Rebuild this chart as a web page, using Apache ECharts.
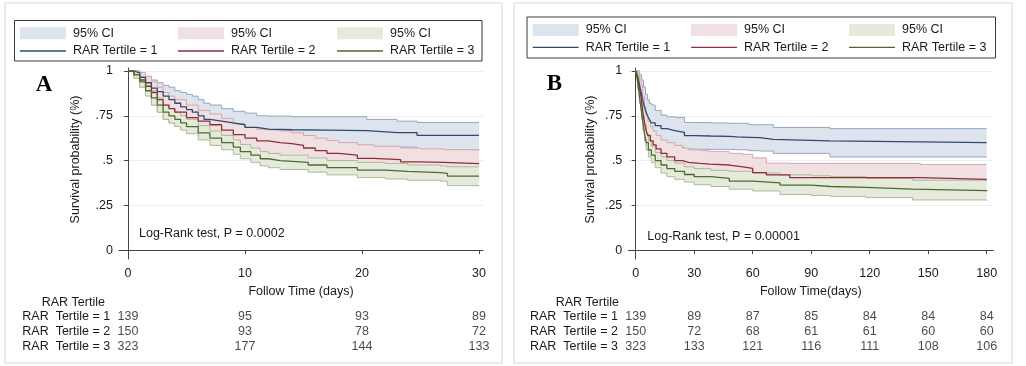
<!DOCTYPE html>
<html>
<head>
<meta charset="utf-8">
<script src="https://cdn.jsdelivr.net/npm/echarts@6.0.0/dist/echarts.min.js"></script>
<style>
  html, body { margin: 0; padding: 0; background: #fff; }
  #chart { width: 1026px; height: 366px; }
</style>
</head>
<body>
<div id="chart"></div>
<script>
// tick labels
const xTicksA = [0, 10, 20, 30];
const xTicksB = [0, 30, 60, 90, 120, 150, 180];
const yTicks = [0, 0.25, 0.5, 0.75, 1];
const ciLabel = "95% CI";
const lineLabels = ["RAR Tertile = 1", "RAR Tertile = 2", "RAR Tertile = 3"];
const rowLabels = ["RAR  Tertile = 1", "RAR  Tertile = 2", "RAR  Tertile = 3"];

// panel A, 30 days: time, survival, lower / upper 95% CI
const tA1 = [0, 0.5, 1, 1.5, 2, 2.5, 3, 3.5, 4, 4.5, 5, 5.5, 6, 6.5, 7, 8, 9, 10, 11, 12, 14, 17, 20.4, 23, 24.7, 30];
const sA1 = [1, 0.99, 0.965, 0.935, 0.905, 0.885, 0.86, 0.84, 0.82, 0.80, 0.785, 0.77, 0.75, 0.73, 0.72, 0.71, 0.70, 0.685, 0.675, 0.672, 0.67, 0.667, 0.656, 0.656, 0.641, 0.641];
const loA1 = [1, 0.97, 0.93, 0.89, 0.85, 0.82, 0.79, 0.77, 0.75, 0.72, 0.70, 0.68, 0.66, 0.64, 0.63, 0.62, 0.61, 0.60, 0.595, 0.59, 0.59, 0.585, 0.575, 0.575, 0.56, 0.555];
const hiA1 = [1, 1, 0.99, 0.97, 0.95, 0.935, 0.92, 0.91, 0.89, 0.88, 0.87, 0.86, 0.84, 0.82, 0.81, 0.79, 0.775, 0.765, 0.75, 0.748, 0.745, 0.745, 0.73, 0.72, 0.713, 0.713];

const tA2 = [0, 0.5, 1, 1.5, 2, 2.5, 3, 3.5, 4, 5, 6, 7, 8, 9, 10, 11, 12, 13, 14, 15, 16, 17, 18, 19.6, 21, 23.3, 25, 27, 30];
const sA2 = [1, 0.98, 0.95, 0.915, 0.88, 0.84, 0.81, 0.79, 0.77, 0.74, 0.72, 0.70, 0.67, 0.645, 0.625, 0.61, 0.60, 0.595, 0.585, 0.57, 0.555, 0.54, 0.53, 0.512, 0.505, 0.493, 0.49, 0.483, 0.48];
const loA2 = [1, 0.96, 0.91, 0.87, 0.81, 0.77, 0.73, 0.71, 0.69, 0.66, 0.64, 0.62, 0.59, 0.565, 0.545, 0.53, 0.52, 0.515, 0.505, 0.49, 0.475, 0.46, 0.45, 0.435, 0.43, 0.415, 0.41, 0.405, 0.40];
const hiA2 = [1, 1, 0.99, 0.97, 0.94, 0.91, 0.88, 0.86, 0.84, 0.81, 0.78, 0.76, 0.735, 0.705, 0.685, 0.675, 0.67, 0.665, 0.655, 0.64, 0.625, 0.612, 0.60, 0.588, 0.58, 0.57, 0.565, 0.56, 0.555];

const tA3 = [0, 0.5, 1, 1.5, 2, 2.5, 3, 3.5, 4, 4.5, 5, 6, 7, 8, 9, 9.6, 10.5, 11.3, 12, 13, 15.4, 17, 19.6, 22, 23.9, 26.7, 27.3, 30];
const sA3 = [1, 0.98, 0.94, 0.89, 0.85, 0.81, 0.77, 0.75, 0.73, 0.71, 0.69, 0.655, 0.625, 0.60, 0.575, 0.55, 0.53, 0.51, 0.50, 0.49, 0.475, 0.46, 0.447, 0.44, 0.432, 0.428, 0.413, 0.413];
const loA3 = [1, 0.96, 0.91, 0.86, 0.81, 0.77, 0.73, 0.71, 0.69, 0.67, 0.65, 0.615, 0.585, 0.56, 0.535, 0.51, 0.49, 0.47, 0.46, 0.45, 0.435, 0.42, 0.405, 0.397, 0.39, 0.385, 0.36, 0.357];
const hiA3 = [1, 1, 0.97, 0.93, 0.89, 0.85, 0.81, 0.79, 0.77, 0.75, 0.73, 0.695, 0.665, 0.64, 0.615, 0.59, 0.57, 0.55, 0.54, 0.53, 0.515, 0.50, 0.49, 0.483, 0.475, 0.47, 0.465, 0.465];

// panel B, 180 days
const tB1 = [0, 1, 2, 3, 4, 5, 6, 7, 8, 10, 13, 16, 20, 25, 30, 38.6, 48, 52, 58, 63.7, 70.6, 99.6, 180];
const sB1 = [1, 0.97, 0.92, 0.87, 0.82, 0.78, 0.75, 0.73, 0.71, 0.695, 0.678, 0.667, 0.657, 0.639, 0.637, 0.635, 0.632, 0.63, 0.628, 0.618, 0.61, 0.60, 0.60];
const loB1 = [1, 0.93, 0.86, 0.79, 0.73, 0.69, 0.66, 0.64, 0.62, 0.605, 0.59, 0.58, 0.572, 0.565, 0.563, 0.562, 0.562, 0.56, 0.555, 0.553, 0.54, 0.52, 0.52];
const hiB1 = [1, 1, 0.98, 0.95, 0.91, 0.87, 0.84, 0.82, 0.81, 0.78, 0.754, 0.745, 0.741, 0.713, 0.712, 0.71, 0.708, 0.708, 0.70, 0.70, 0.685, 0.678, 0.678];

const tB2 = [0, 1, 2, 2.8, 3.5, 4.5, 5.3, 6.2, 7.5, 8.9, 10.5, 13, 16, 20, 24, 27, 33, 38, 48, 55, 60, 67, 79, 146, 180];
const sB2 = [1, 0.96, 0.90, 0.85, 0.78, 0.713, 0.67, 0.64, 0.61, 0.587, 0.565, 0.54, 0.52, 0.50, 0.49, 0.484, 0.48, 0.475, 0.465, 0.456, 0.432, 0.42, 0.405, 0.395, 0.395];
const loB2 = [1, 0.92, 0.84, 0.78, 0.70, 0.63, 0.58, 0.555, 0.53, 0.51, 0.49, 0.465, 0.445, 0.43, 0.42, 0.415, 0.41, 0.405, 0.395, 0.385, 0.36, 0.35, 0.335, 0.325, 0.325];
const hiB2 = [1, 1, 0.96, 0.92, 0.86, 0.80, 0.76, 0.72, 0.69, 0.665, 0.64, 0.615, 0.60, 0.585, 0.57, 0.56, 0.555, 0.55, 0.54, 0.535, 0.515, 0.486, 0.484, 0.478, 0.478];

const tB3 = [0, 1, 2, 3, 3.7, 4.5, 5.4, 6.5, 8, 10, 13, 16, 20, 25, 30, 38.6, 48, 60, 74, 90, 100, 118, 142, 180];
const sB3 = [1, 0.94, 0.85, 0.77, 0.713, 0.65, 0.60, 0.56, 0.53, 0.50, 0.475, 0.455, 0.44, 0.422, 0.41, 0.40, 0.385, 0.375, 0.363, 0.355, 0.35, 0.34, 0.332, 0.328];
const loB3 = [1, 0.90, 0.82, 0.73, 0.67, 0.61, 0.56, 0.52, 0.49, 0.46, 0.43, 0.41, 0.395, 0.38, 0.365, 0.355, 0.34, 0.33, 0.31, 0.305, 0.30, 0.293, 0.28, 0.275];
const hiB3 = [1, 0.97, 0.88, 0.81, 0.75, 0.70, 0.65, 0.61, 0.58, 0.545, 0.52, 0.50, 0.485, 0.465, 0.455, 0.445, 0.44, 0.43, 0.42, 0.415, 0.41, 0.40, 0.39, 0.383];

// numbers at risk
const riskTimesA = [0, 10, 20, 30];
const riskA1 = [139, 95, 93, 89];
const riskA2 = [150, 93, 78, 72];
const riskA3 = [323, 177, 144, 133];
const riskTimesB = [0, 30, 60, 90, 120, 150, 180];
const riskB1 = [139, 89, 87, 85, 84, 84, 84];
const riskB2 = [150, 72, 68, 61, 61, 60, 60];
const riskB3 = [323, 133, 121, 116, 111, 108, 106];

const font = "'Liberation Sans', Arial, sans-serif";
const ink = "#1a1a1a";
const styles = [
  { line: "#2d4b70", fill: "#dee4ed", edge: "#93a6bf" },
  { line: "#8c2f3b", fill: "#f1e0e2", edge: "#d9a6ac" },
  { line: "#4d6c2c", fill: "#e5eadd", edge: "#adbb97" }
];

// step outline (KM style: hold value until next time)
function stepPts(api, t, v) {
  const pts = [];
  for (let j = 0; j < t.length; j++) {
    pts.push(api.coord([t[j], v[j]]));
    if (j + 1 < t.length) pts.push(api.coord([t[j + 1], v[j]]));
  }
  return pts;
}

function curveSeries(p, k, curves) {
  const bands = [], lines = [];
  curves.forEach((c, i) => {
    const st = styles[i];
    bands.push({
      type: "custom", name: p + "-ci-" + (i + 1), xAxisIndex: k, yAxisIndex: k,
      silent: true, animation: false, itemStyle: { color: st.fill },
      data: c.t.map((x, j) => [x, c.lo[j], c.hi[j]]),
      encode: { x: 0, y: [1, 2] },
      renderItem: (params, api) => {
        if (params.dataIndex !== 0) return;
        const up = stepPts(api, c.t, c.hi);
        const dn = stepPts(api, c.t, c.lo);
        return {
          type: "group",
          children: [
            { type: "polygon", shape: { points: up.concat(dn.slice().reverse()) }, style: { fill: st.fill, stroke: "none" } },
            { type: "polyline", shape: { points: up }, style: { fill: "none", stroke: st.edge, lineWidth: 1 } },
            { type: "polyline", shape: { points: dn }, style: { fill: "none", stroke: st.edge, lineWidth: 1 } }
          ]
        };
      }
    });
    lines.push({
      type: "line", name: p + "-km-" + (i + 1), xAxisIndex: k, yAxisIndex: k,
      step: "end", symbol: "none", silent: true, animation: false, z: 3,
      emphasis: { disabled: true },
      lineStyle: { color: st.line, width: 1.3 },
      itemStyle: { color: st.line },
      data: c.t.map((x, j) => [x, c.s[j]])
    });
  });
  return bands.concat(lines);
}

function riskSeries(k, times, rows) {
  return rows.map((n, r) => ({
    type: "scatter", xAxisIndex: k, yAxisIndex: k, symbolSize: 0, silent: true, animation: false,
    data: times.map((t, j) => [t, r, n[j]]),
    label: { show: true, position: "inside", formatter: (q) => String(q.value[2]), fontSize: 12.5, color: ink, fontFamily: font }
  }));
}

function plotX(grid, min, max, ticks, title) {
  return {
    type: "value", gridIndex: grid, min: min, max: max,
    name: title, nameLocation: "middle", nameGap: 22,
    nameTextStyle: { fontSize: 12.5, color: ink, fontFamily: font },
    axisLine: { show: true, lineStyle: { color: "#444", width: 1 } },
    axisTick: { show: true, length: 4, customValues: ticks, lineStyle: { color: "#444" } },
    axisLabel: { customValues: ticks, margin: 8, fontSize: 12.5, color: ink, fontFamily: font },
    splitLine: { show: false }
  };
}

function plotY(grid, gap) {
  return {
    type: "value", gridIndex: grid, min: -0.05, max: 1.017,
    name: "Survival probability (%)", nameLocation: "middle", nameGap: gap,
    nameTextStyle: { fontSize: 12.5, color: ink, fontFamily: font, padding: [0, 0, 0, 8] },
    axisLine: { show: true, lineStyle: { color: "#444", width: 1 } },
    axisTick: { show: true, length: 4, customValues: yTicks, lineStyle: { color: "#444" } },
    axisLabel: {
      customValues: yTicks, margin: 6, fontSize: 12.5, color: ink, fontFamily: font,
      formatter: (v) => (v === 0 ? "0" : v === 1 ? "1" : String(v).replace(/^0/, ""))
    },
    splitLine: { show: true, lineStyle: { color: "#e9eff2", width: 1 } }
  };
}

function riskX(grid, min, max) {
  return { type: "value", gridIndex: grid, min: min, max: max, show: false };
}
function riskY(grid, margin) {
  return {
    type: "category", gridIndex: grid, data: rowLabels, inverse: true,
    axisLine: { show: false }, axisTick: { show: false }, splitLine: { show: false },
    axisLabel: { interval: 0, align: "left", margin: margin, fontSize: 12.5, color: ink, fontFamily: font }
  };
}

function legendCol(p, i, left, top, gap) {
  return {
    left: left, top: top, orient: "vertical", padding: 0, itemGap: gap,
    itemWidth: 46, itemHeight: 12, selectedMode: false, symbolKeepAspect: true,
    textStyle: { fontSize: 12.5, color: ink, fontFamily: font, lineHeight: 14, padding: [0, 0, 0, 2] },
    formatter: (n) => (n.indexOf("-ci-") > 0 ? ciLabel : lineLabels[i]),
    data: [
      { name: p + "-ci-" + (i + 1), icon: "rect", itemStyle: { color: styles[i].fill, borderWidth: 0 } },
      { name: p + "-km-" + (i + 1), icon: "path://M0,0H46V1.3H0Z", itemStyle: { color: styles[i].line, borderWidth: 0 } }
    ]
  };
}

const curvesA = [
  { t: tA1, s: sA1, lo: loA1, hi: hiA1 },
  { t: tA2, s: sA2, lo: loA2, hi: hiA2 },
  { t: tA3, s: sA3, lo: loA3, hi: hiA3 }
];
const curvesB = [
  { t: tB1, s: sB1, lo: loB1, hi: hiB1 },
  { t: tB2, s: sB2, lo: loB2, hi: hiB2 },
  { t: tB3, s: sB3, lo: loB3, hi: hiB3 }
];

const chart = echarts.init(document.getElementById("chart"));
chart.setOption({
  animation: false,
  backgroundColor: "#fff",
  textStyle: { fontFamily: font },
  grid: [
    { left: 119, top: 68, width: 364, height: 191 },
    { left: 119, top: 309.7, width: 364, height: 44 },
    { left: 628.3, top: 68, width: 365, height: 191 },
    { left: 628.3, top: 309.7, width: 365, height: 44 }
  ],
  xAxis: [
    plotX(0, -0.77, 30.34, xTicksA, "Follow Time (days)"),
    riskX(1, -0.77, 30.34),
    plotX(2, -3.8, 183.4, xTicksB, "Follow Time(days)"),
    riskX(3, -3.8, 183.4)
  ],
  yAxis: [plotY(0, 37), riskY(1, 96.7), plotY(2, 31), riskY(3, 98.3)],
  legend: [
    legendCol("A", 0, 20, 26.3, 3.7),
    legendCol("A", 1, 178, 26.3, 3.7),
    legendCol("A", 2, 337, 26.3, 3.7),
    legendCol("B", 0, 532.7, 23, 3.3),
    legendCol("B", 1, 691, 23, 3.3),
    legendCol("B", 2, 849, 23, 3.3)
  ],
  series: [].concat(
    curveSeries("A", 0, curvesA),
    riskSeries(1, riskTimesA, [riskA1, riskA2, riskA3]),
    curveSeries("B", 2, curvesB),
    riskSeries(3, riskTimesB, [riskB1, riskB2, riskB3])
  ),
  graphic: [
    { type: "rect", shape: { x: 5, y: 3, width: 497, height: 360 }, style: { fill: "none", stroke: "#e6edf0", lineWidth: 2 }, silent: true },
    { type: "rect", shape: { x: 514, y: 3, width: 498, height: 360 }, style: { fill: "none", stroke: "#e6edf0", lineWidth: 2 }, silent: true },
    { type: "rect", shape: { x: 14.5, y: 20.5, width: 467.5, height: 40.5 }, style: { fill: "none", stroke: "#3a3a3a", lineWidth: 1 }, silent: true },
    { type: "rect", shape: { x: 527, y: 17, width: 468.5, height: 41 }, style: { fill: "none", stroke: "#3a3a3a", lineWidth: 1 }, silent: true },
    { type: "text", x: 44, y: 85, style: { text: "A", font: "bold 23px 'Liberation Serif', 'Times New Roman', serif", fill: "#000", align: "center", verticalAlign: "middle" }, silent: true },
    { type: "text", x: 554.5, y: 84, style: { text: "B", font: "bold 23px 'Liberation Serif', 'Times New Roman', serif", fill: "#000", align: "center", verticalAlign: "middle" }, silent: true },
    { type: "text", x: 139, y: 234, style: { text: "Log-Rank test, P = 0.0002", font: "12.5px " + font, fill: ink, verticalAlign: "middle" }, silent: true },
    { type: "text", x: 647.3, y: 237, style: { text: "Log-Rank test, P = 0.00001", font: "12.5px " + font, fill: ink, verticalAlign: "middle" }, silent: true },
    { type: "text", x: 41.7, y: 303, style: { text: "RAR Tertile", font: "12.5px " + font, fill: ink, verticalAlign: "middle" }, silent: true },
    { type: "text", x: 555.7, y: 303, style: { text: "RAR Tertile", font: "12.5px " + font, fill: ink, verticalAlign: "middle" }, silent: true }
  ]
});
</script>
</body>
</html>
